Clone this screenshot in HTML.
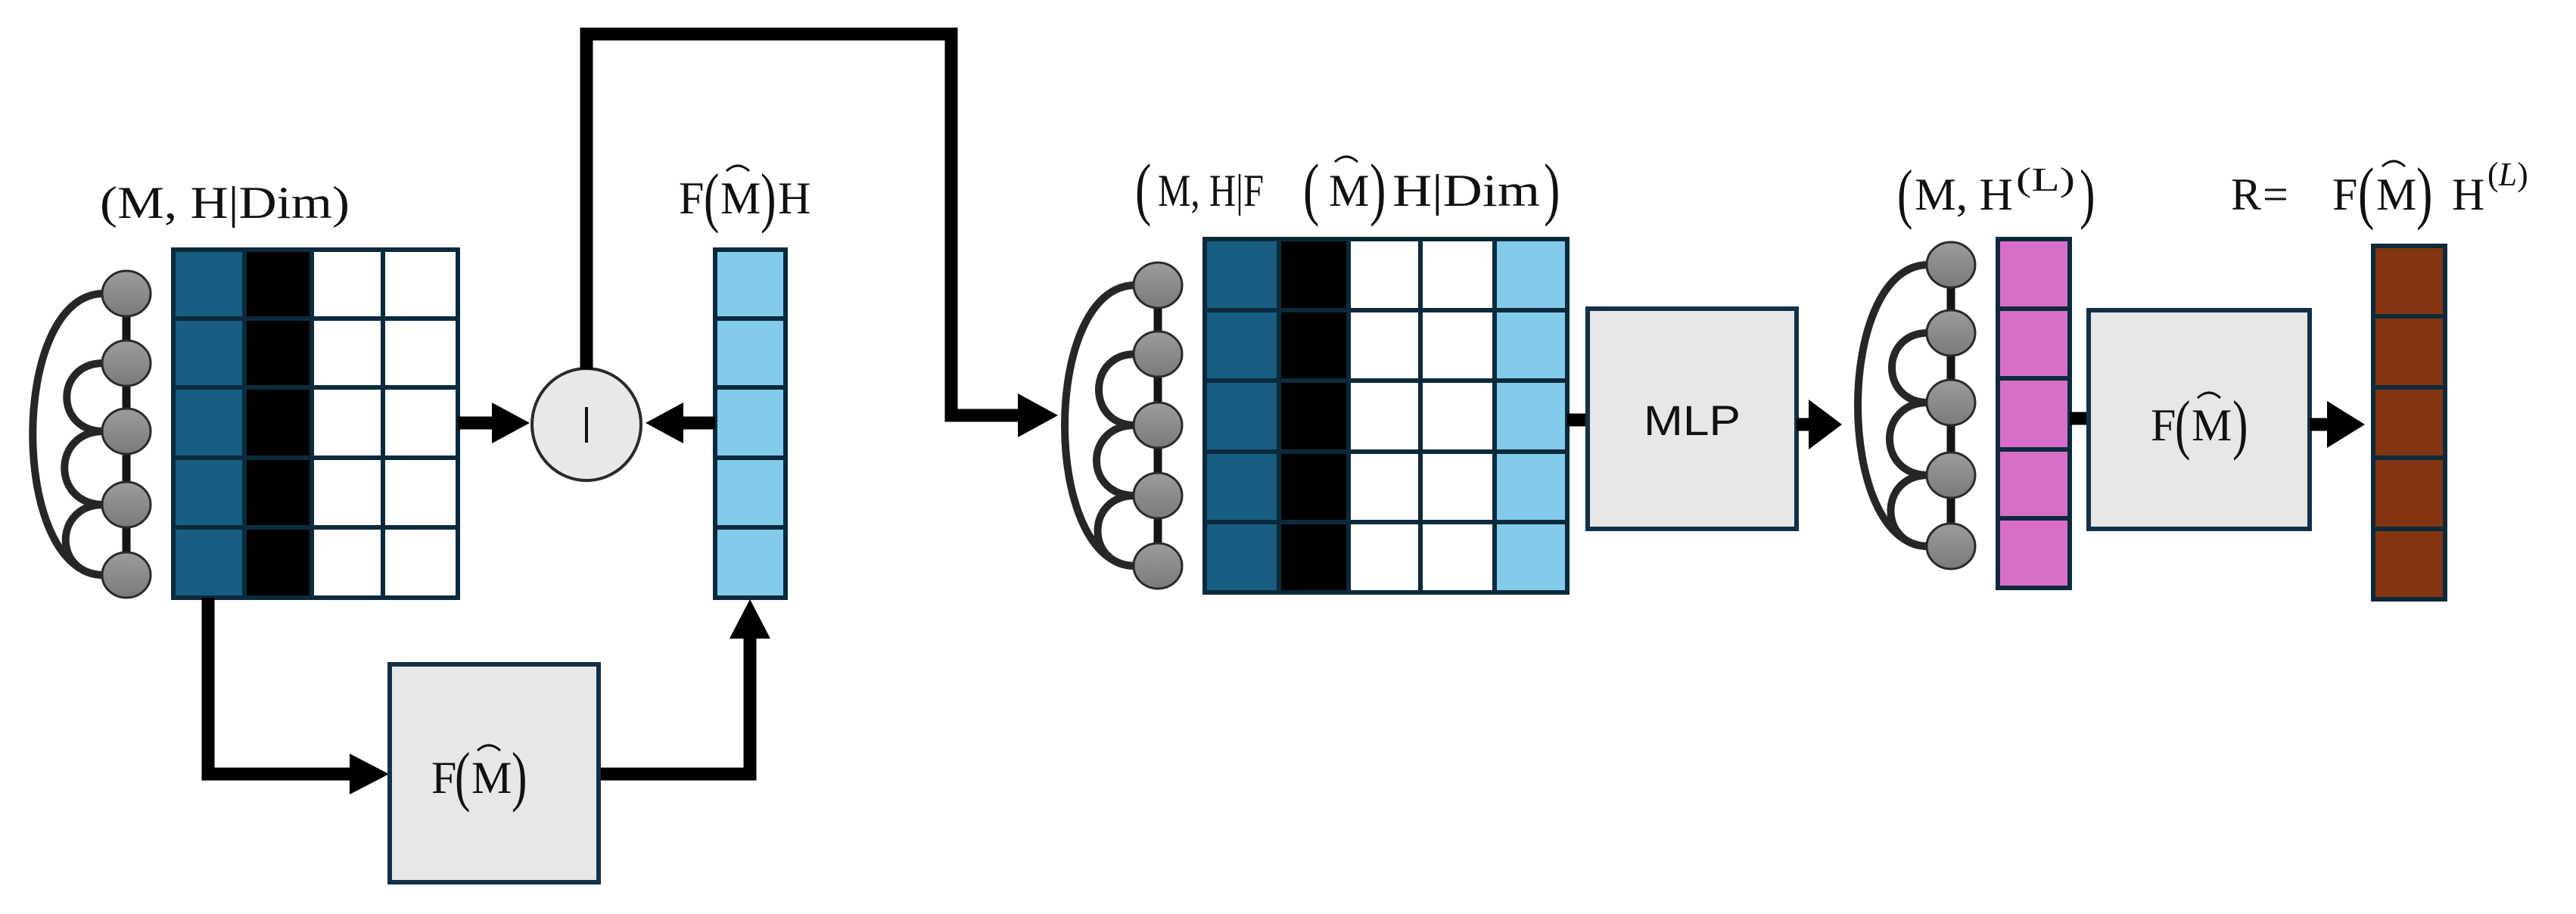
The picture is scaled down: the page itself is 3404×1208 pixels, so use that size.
<!DOCTYPE html>
<html><head><meta charset="utf-8"><style>
html,body{margin:0;padding:0;background:#fff;}
svg{display:block;}
</style></head><body>
<svg width="3404" height="1208" viewBox="0 0 3404 1208" xmlns="http://www.w3.org/2000/svg">
<defs>
<linearGradient id="ng" x1="0" y1="0" x2="0" y2="1"><stop offset="0" stop-color="#9c9c9c"/><stop offset="1" stop-color="#7a7a7a"/></linearGradient>
</defs>
<style>
.st{font-family:"Liberation Serif",serif;fill:#111;}
.ss{font-family:"Liberation Sans",sans-serif;fill:#111;}
.cell{stroke:#0c2a3c;stroke-width:6;}
.ln{stroke:#000;stroke-width:17;fill:none;}
.arc{stroke:#262626;stroke-width:10;fill:none;}
.nd{fill:url(#ng);stroke:#2a2a2a;stroke-width:3;}
.box{fill:#e7e7e7;stroke:#13304a;stroke-width:6;}
.hat{stroke:#111;stroke-width:3;fill:none;}
</style>

<!-- ===== LEFT GRAPH ===== -->
<line x1="167" y1="388" x2="167" y2="760" stroke="#151515" stroke-width="11"/>
<path class="arc" d="M137 388 C12 388 12 760 137 760"/>
<path class="arc" d="M137 480 C72 480 72 570 137 570"/>
<path class="arc" d="M137 570 C68 570 68 667 137 667"/>
<path class="arc" d="M137 667 C70 667 70 760 137 760"/>
<ellipse class="nd" cx="167" cy="388" rx="32" ry="30"/>
<ellipse class="nd" cx="167" cy="480" rx="32" ry="30"/>
<ellipse class="nd" cx="167" cy="570" rx="32" ry="30"/>
<ellipse class="nd" cx="167" cy="667" rx="32" ry="30"/>
<ellipse class="nd" cx="167" cy="760" rx="32" ry="30"/>

<!-- left matrix -->
<g class="cell">
<rect x="229" y="330" width="94" height="91" fill="#175e82"/><rect x="323" y="330" width="89" height="91" fill="#000"/><rect x="412" y="330" width="94" height="91" fill="#fff"/><rect x="506" y="330" width="99" height="91" fill="#fff"/>
<rect x="229" y="421" width="94" height="91" fill="#175e82"/><rect x="323" y="421" width="89" height="91" fill="#000"/><rect x="412" y="421" width="94" height="91" fill="#fff"/><rect x="506" y="421" width="99" height="91" fill="#fff"/>
<rect x="229" y="512" width="94" height="93" fill="#175e82"/><rect x="323" y="512" width="89" height="93" fill="#000"/><rect x="412" y="512" width="94" height="93" fill="#fff"/><rect x="506" y="512" width="99" height="93" fill="#fff"/>
<rect x="229" y="605" width="94" height="92" fill="#175e82"/><rect x="323" y="605" width="89" height="92" fill="#000"/><rect x="412" y="605" width="94" height="92" fill="#fff"/><rect x="506" y="605" width="99" height="92" fill="#fff"/>
<rect x="229" y="697" width="94" height="93" fill="#175e82"/><rect x="323" y="697" width="89" height="93" fill="#000"/><rect x="412" y="697" width="94" height="93" fill="#fff"/><rect x="506" y="697" width="99" height="93" fill="#fff"/>
</g>

<!-- light blue column -->
<g class="cell" fill="#82cbea">
<rect x="945" y="330" width="93" height="91"/><rect x="945" y="421" width="93" height="91"/><rect x="945" y="512" width="93" height="93"/><rect x="945" y="605" width="93" height="92"/><rect x="945" y="697" width="93" height="93"/>
</g>

<!-- concat circle -->
<ellipse cx="775" cy="561" rx="72" ry="74" fill="#e8e8e8" stroke="#2a2a2a" stroke-width="4"/>
<line x1="775" y1="538" x2="775" y2="585" stroke="#111" stroke-width="4"/>

<!-- arrows left -->
<line class="ln" x1="605" y1="559" x2="655" y2="559"/>
<polygon points="650,532 700,559 650,586"/>
<line class="ln" x1="945" y1="559" x2="900" y2="559"/>
<polygon points="903,532 853,559 903,586"/>
<!-- top loop -->
<polyline class="ln" points="775,488 775,45 1257,45 1257,549 1350,549"/>
<polygon points="1345,520 1398,549 1345,578"/>
<!-- bottom path -->
<polyline class="ln" points="275,790 275,1023 465,1023"/>
<polygon points="462,996 514,1023 462,1050"/>
<polyline class="ln" points="792,1023 991,1023 991,840"/>
<polygon points="964,844 991,792 1018,844"/>

<!-- F(M) box bottom -->
<rect class="box" x="515" y="878" width="276" height="288"/>
<text class="st" x="570" y="1048" font-size="60">F</text>
<text class="st" x="601" y="1055" font-size="88" transform="translate(601 1055) scale(0.7 1) translate(-601 -1055)">(</text>
<text class="st" x="623" y="1048" font-size="60">M</text>
<path class="hat" d="M631 992 Q646 978 661 992"/>
<text class="st" x="676" y="1055" font-size="88" transform="translate(676 1055) scale(0.7 1) translate(-676 -1055)">)</text>

<!-- Labels left -->
<text class="st" x="132" y="288" font-size="60" textLength="330" lengthAdjust="spacingAndGlyphs">(M, H|Dim)</text>
<text class="st" x="897" y="282" font-size="60">F</text>
<text class="st" x="930" y="290" font-size="88" transform="translate(930 290) scale(0.7 1) translate(-930 -290)">(</text>
<text class="st" x="952" y="282" font-size="60">M</text>
<path class="hat" d="M960 226 Q975 212 990 226"/>
<text class="st" x="1005" y="290" font-size="88" transform="translate(1005 290) scale(0.7 1) translate(-1005 -290)">)</text>
<text class="st" x="1028" y="282" font-size="60">H</text>

<!-- ===== MIDDLE GRAPH ===== -->
<line x1="1530" y1="377" x2="1530" y2="748" stroke="#151515" stroke-width="11"/>
<path class="arc" d="M1500 377 C1376 377 1376 748 1500 748"/>
<path class="arc" d="M1500 468 C1436 468 1436 562 1500 562"/>
<path class="arc" d="M1500 562 C1432 562 1432 655 1500 655"/>
<path class="arc" d="M1500 655 C1434 655 1434 748 1500 748"/>
<ellipse class="nd" cx="1530" cy="377" rx="32" ry="30"/>
<ellipse class="nd" cx="1530" cy="468" rx="32" ry="30"/>
<ellipse class="nd" cx="1530" cy="562" rx="32" ry="30"/>
<ellipse class="nd" cx="1530" cy="655" rx="32" ry="30"/>
<ellipse class="nd" cx="1530" cy="748" rx="32" ry="30"/>

<g class="cell">
<rect x="1592" y="316" width="98" height="94" fill="#175e82"/><rect x="1690" y="316" width="92" height="94" fill="#000"/><rect x="1782" y="316" width="95" height="94" fill="#fff"/><rect x="1877" y="316" width="98" height="94" fill="#fff"/><rect x="1975" y="316" width="96" height="94" fill="#82cbea"/>
<rect x="1592" y="410" width="98" height="93" fill="#175e82"/><rect x="1690" y="410" width="92" height="93" fill="#000"/><rect x="1782" y="410" width="95" height="93" fill="#fff"/><rect x="1877" y="410" width="98" height="93" fill="#fff"/><rect x="1975" y="410" width="96" height="93" fill="#82cbea"/>
<rect x="1592" y="503" width="98" height="94" fill="#175e82"/><rect x="1690" y="503" width="92" height="94" fill="#000"/><rect x="1782" y="503" width="95" height="94" fill="#fff"/><rect x="1877" y="503" width="98" height="94" fill="#fff"/><rect x="1975" y="503" width="96" height="94" fill="#82cbea"/>
<rect x="1592" y="597" width="98" height="93" fill="#175e82"/><rect x="1690" y="597" width="92" height="93" fill="#000"/><rect x="1782" y="597" width="95" height="93" fill="#fff"/><rect x="1877" y="597" width="98" height="93" fill="#fff"/><rect x="1975" y="597" width="96" height="93" fill="#82cbea"/>
<rect x="1592" y="690" width="98" height="93" fill="#175e82"/><rect x="1690" y="690" width="92" height="93" fill="#000"/><rect x="1782" y="690" width="95" height="93" fill="#fff"/><rect x="1877" y="690" width="98" height="93" fill="#fff"/><rect x="1975" y="690" width="96" height="93" fill="#82cbea"/>
</g>

<line class="ln" x1="2071" y1="555" x2="2098" y2="555"/>
<rect class="box" x="2098" y="408" width="276" height="291"/>
<text class="ss" x="2236" y="575" font-size="56" text-anchor="middle" textLength="128" lengthAdjust="spacingAndGlyphs">MLP</text>
<line class="ln" x1="2374" y1="561" x2="2400" y2="561"/>
<polygon points="2390,528 2434,561 2390,594"/>

<!-- middle label -->
<text class="st" x="1500" y="280" font-size="92" transform="translate(1500 280) scale(0.7 1) translate(-1500 -280)">(</text>
<text class="st" x="1530" y="272" font-size="60" textLength="140" lengthAdjust="spacingAndGlyphs">M, H|F</text>
<text class="st" x="1722" y="280" font-size="92" transform="translate(1722 280) scale(0.7 1) translate(-1722 -280)">(</text>
<text class="st" x="1756" y="272" font-size="60">M</text>
<path class="hat" d="M1764 214 Q1779 200 1794 214"/>
<text class="st" x="1810" y="280" font-size="92" transform="translate(1810 280) scale(0.7 1) translate(-1810 -280)">)</text>
<text class="st" x="1840" y="272" font-size="60" textLength="195" lengthAdjust="spacingAndGlyphs">H|Dim</text>
<text class="st" x="2040" y="280" font-size="92" transform="translate(2040 280) scale(0.7 1) translate(-2040 -280)">)</text>

<!-- ===== RIGHT GRAPH ===== -->
<line x1="2578" y1="350" x2="2578" y2="722" stroke="#151515" stroke-width="11"/>
<path class="arc" d="M2548 350 C2424 350 2424 722 2548 722"/>
<path class="arc" d="M2548 440 C2484 440 2484 532 2548 532"/>
<path class="arc" d="M2548 532 C2480 532 2480 628 2548 628"/>
<path class="arc" d="M2548 628 C2482 628 2482 722 2548 722"/>
<ellipse class="nd" cx="2578" cy="350" rx="32" ry="30"/>
<ellipse class="nd" cx="2578" cy="440" rx="32" ry="30"/>
<ellipse class="nd" cx="2578" cy="532" rx="32" ry="30"/>
<ellipse class="nd" cx="2578" cy="628" rx="32" ry="30"/>
<ellipse class="nd" cx="2578" cy="722" rx="32" ry="30"/>

<g class="cell" fill="#d96ec9">
<rect x="2640" y="316" width="95" height="92"/><rect x="2640" y="408" width="95" height="92"/><rect x="2640" y="500" width="95" height="94"/><rect x="2640" y="594" width="95" height="91"/><rect x="2640" y="685" width="95" height="92"/>
</g>
<line class="ln" x1="2735" y1="553" x2="2760" y2="553"/>
<rect class="box" x="2760" y="410" width="292" height="289"/>
<text class="st" x="2842" y="582" font-size="60">F</text>
<text class="st" x="2874" y="590" font-size="88" transform="translate(2874 590) scale(0.7 1) translate(-2874 -590)">(</text>
<text class="st" x="2896" y="582" font-size="60">M</text>
<path class="hat" d="M2904 526 Q2919 512 2934 526"/>
<text class="st" x="2950" y="590" font-size="88" transform="translate(2950 590) scale(0.7 1) translate(-2950 -590)">)</text>
<line class="ln" x1="3052" y1="561" x2="3078" y2="561"/>
<polygon points="3075,530 3125,561 3075,592"/>

<g class="cell" fill="#823510">
<rect x="3136" y="325" width="95" height="93"/><rect x="3136" y="418" width="95" height="94"/><rect x="3136" y="512" width="95" height="93"/><rect x="3136" y="605" width="95" height="94"/><rect x="3136" y="699" width="95" height="93"/>
</g>

<!-- right labels -->
<text class="st" x="2507" y="285" font-size="88" transform="translate(2507 285) scale(0.7 1) translate(-2507 -285)">(</text>
<text class="st" x="2530" y="277" font-size="60" textLength="130" lengthAdjust="spacingAndGlyphs">M, H</text>
<text class="st" x="2664" y="252" font-size="44" textLength="78" lengthAdjust="spacingAndGlyphs">(L)</text>
<text class="st" x="2748" y="285" font-size="88" transform="translate(2748 285) scale(0.7 1) translate(-2748 -285)">)</text>

<text class="st" x="2948" y="277" font-size="60">R</text>
<text class="st" x="2990" y="277" font-size="60">=</text>
<text class="st" x="3082" y="277" font-size="60">F</text>
<text class="st" x="3116" y="285" font-size="92" transform="translate(3116 285) scale(0.7 1) translate(-3116 -285)">(</text>
<text class="st" x="3140" y="277" font-size="60">M</text>
<path class="hat" d="M3148 220 Q3163 206 3178 220"/>
<text class="st" x="3193" y="285" font-size="92" transform="translate(3193 285) scale(0.7 1) translate(-3193 -285)">)</text>
<text class="st" x="3240" y="277" font-size="60">H</text>
<text class="st" x="3287" y="245" font-size="44"><tspan>(</tspan><tspan font-style="italic">L</tspan><tspan>)</tspan></text>
</svg>
</body></html>
